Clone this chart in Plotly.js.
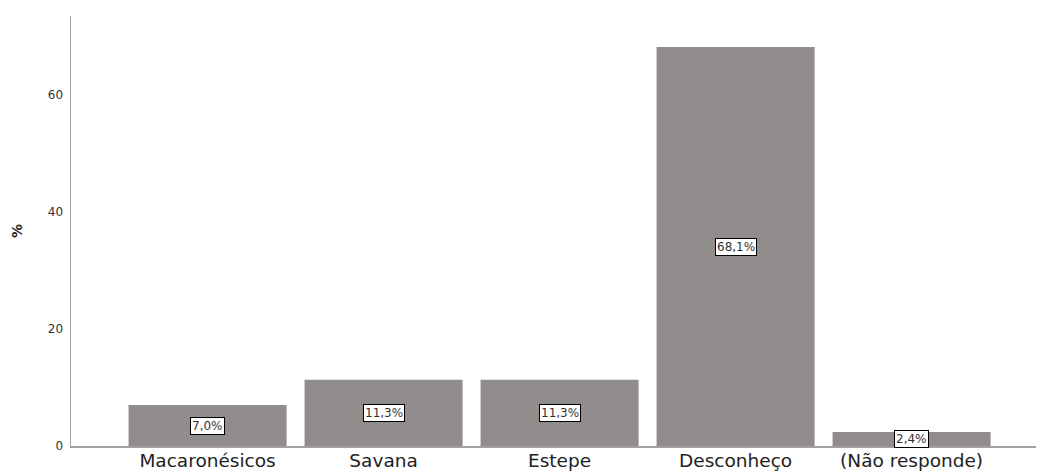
<!DOCTYPE html>
<html>
<head>
<meta charset="utf-8">
<script src="https://cdn.plot.ly/plotly-3.0.1.min.js"></script>
<style>html,body{margin:0;padding:0;background:#fff;}#chart{width:1037px;height:472px;}</style>
</head>
<body>
<div id="chart"></div>
<script>
const categories = ["Macaronésicos", "Savana", "Estepe", "Desconheço", "(Não responde)"];
const values = [7.0, 11.3, 11.3, 68.1, 2.4];
const valueLabels = ["7,0%", "11,3%", "11,3%", "68,1%", "2,4%"];
const yTickValues = [0, 20, 40, 60];

const trace = {
  type: "bar",
  x: categories,
  y: values,
  marker: {color: "#918d8c", line: {width: 0}},
  hoverinfo: "none"
};

const annotations = categories.map((c, i) => ({
  x: c, y: values[i] / 2, xref: "x", yref: "y",
  text: valueLabels[i], showarrow: false,
  bgcolor: "#ffffff", bordercolor: "#000000", borderwidth: 1, borderpad: 1,
  font: {family: "DejaVu Sans, sans-serif", size: 12, color: "#333333"}
}));

const layout = {
  width: 1037, height: 472,
  margin: {l: 71, r: 1, t: 16, b: 26},
  paper_bgcolor: "#ffffff", plot_bgcolor: "#ffffff",
  showlegend: false,
  bargap: 0.102,
  xaxis: {
    type: "category",
    range: [-0.776, 4.707],
    showline: true, linecolor: "#a0a0a0", linewidth: 1.5,
    showgrid: false, zeroline: false, ticks: "",
    ticklabelstandoff: -3,
    tickfont: {family: "DejaVu Sans, sans-serif", size: 18.5, color: "#222222"},
    fixedrange: true
  },
  yaxis: {
    range: [0, 73.4],
    tickvals: yTickValues,
    ticktext: yTickValues.map(String),
    showline: true, linecolor: "#a0a0a0", linewidth: 1.5,
    showgrid: false, zeroline: false, ticks: "",
    ticklabelstandoff: 4,
    tickfont: {family: "DejaVu Sans, sans-serif", size: 12, color: "#333333"},
    title: {text: "<b>%</b>", font: {family: "DejaVu Sans, sans-serif", size: 14, color: "#222222"}, standoff: 22},
    fixedrange: true
  },
  annotations: annotations
};

Plotly.newPlot("chart", [trace], layout, {displayModeBar: false, staticPlot: true});
</script>
</body>
</html>
